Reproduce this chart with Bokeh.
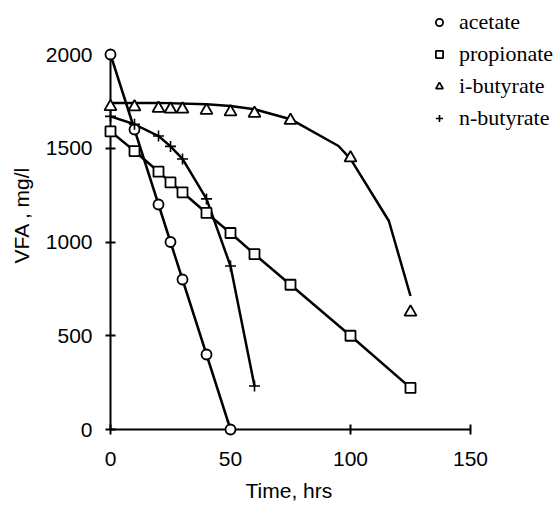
from bokeh.plotting import figure
from bokeh.models import Range1d, FixedTicker, Legend, LegendItem, Title
from bokeh.embed import file_html
from bokeh.resources import INLINE

# ---- data ----
acetate_t = [0, 10, 20, 25, 30, 40, 50]
acetate_v = [2000, 1600, 1200, 1000, 800, 400, 0]

propionate_t = [0, 10, 20, 25, 30, 40, 50, 60, 75, 100, 125]
propionate_v = [1590, 1485, 1375, 1318, 1265, 1155, 1048, 935, 772, 500, 222]

ibutyrate_t = [0, 10, 20, 25, 30, 40, 50, 60, 75, 100, 125]
ibutyrate_v = [1722, 1720, 1712, 1708, 1708, 1702, 1694, 1686, 1648, 1448, 626]

# fitted curve drawn for i-butyrate
ibutyrate_fit_t = [0, 20, 40, 50, 60, 75, 95, 100, 116, 125]
ibutyrate_fit_v = [1742, 1742, 1735, 1725, 1708, 1655, 1512, 1443, 1112, 712]

nbutyrate_t = [0, 10, 20, 25, 30, 40, 50, 60]
nbutyrate_v = [1670, 1628, 1565, 1510, 1443, 1230, 872, 232]

x_ticks = [0, 50, 100, 150]
y_ticks = [0, 500, 1000, 1500, 2000]

FONT = "Liberation Sans"
SERIF = "Liberation Serif"

W, H = 558, 509
L, B = 110, 80          # frame left edge = x 0, frame bottom = y 0
kx, ky = 2.4, 0.1875    # px per hour, px per mg/l
x_right = (W - L) / kx  # frame reaches the right edge of the canvas
y_top = (H - B) / ky    # frame reaches the top of the canvas

p = figure(width=W, height=H, output_backend="svg", toolbar_location=None,
           x_range=Range1d(0, x_right), y_range=Range1d(0, y_top),
           min_border_left=L, min_border_bottom=B, min_border_top=0, min_border_right=0)
p.outline_line_color = None
p.xgrid.visible = False
p.ygrid.visible = False
p.background_fill_color = "white"
p.border_fill_color = "white"

for ax in (p.xaxis[0], p.yaxis[0]):
    ax.axis_line_width = 2
    ax.axis_line_color = "black"
    ax.major_tick_line_width = 2
    ax.major_tick_line_color = "black"
    ax.major_tick_in = 5
    ax.major_tick_out = 5
    ax.minor_tick_line_color = None
    ax.major_label_text_font = FONT
    ax.major_label_text_font_size = "21px"
    ax.major_label_text_color = "black"
    ax.axis_label_text_font = FONT
    ax.axis_label_text_font_size = "21px"
    ax.axis_label_text_font_style = "normal"
    ax.axis_label_text_color = "black"

xa = p.xaxis[0]
xa.ticker = FixedTicker(ticks=x_ticks)
xa.bounds = (0, 150)
xa.major_label_standoff = 17

# x-axis title, placed under the 0..150 span of the axis
p.add_layout(Title(text="Time, hrs", align="left", offset=135, standoff=16,
                   text_font=FONT, text_font_size="21px", text_font_style="normal",
                   text_color="black"), "below")

ya = p.yaxis[0]
ya.ticker = FixedTicker(ticks=y_ticks)
ya.bounds = (0, 2000)
ya.axis_label = "VFA , mg/l"
ya.major_label_standoff = 13
ya.axis_label_standoff = 10

LW = 2.5
for t, v in ((acetate_t, acetate_v), (propionate_t, propionate_v),
             (ibutyrate_fit_t, ibutyrate_fit_v), (nbutyrate_t, nbutyrate_v)):
    p.line(t, v, line_color="black", line_width=LW, level="overlay")

r_ac = p.scatter(acetate_t, acetate_v, marker="circle", size=10, level="overlay",
                 fill_color="white", line_color="black", line_width=1.8)
r_pr = p.scatter(propionate_t, propionate_v, marker="square", size=10, level="overlay",
                 fill_color="white", line_color="black", line_width=1.8)
r_ib = p.scatter(ibutyrate_t, ibutyrate_v, marker="triangle", size=12, level="overlay",
                 fill_color="white", line_color="black", line_width=1.8)
r_nb = p.scatter(nbutyrate_t, nbutyrate_v, marker="cross", size=11, level="overlay",
                 fill_color="white", line_color="black", line_width=1.6)

legend = Legend(items=[
    LegendItem(label="acetate", renderers=[r_ac]),
    LegendItem(label="propionate", renderers=[r_pr]),
    LegendItem(label="i-butyrate", renderers=[r_ib]),
    LegendItem(label="n-butyrate", renderers=[r_nb]),
], location=(320, 298))
legend.padding = 0
legend.margin = 0
legend.border_line_color = None
legend.background_fill_alpha = 0
legend.glyph_width = 18
legend.glyph_height = 20
legend.label_height = 20
legend.label_standoff = 11
legend.spacing = 6
legend.label_text_font = SERIF
legend.label_text_font_size = "22px"
legend.label_text_color = "black"
p.add_layout(legend, "center")

open("out.html", "w").write(file_html(p, INLINE))
